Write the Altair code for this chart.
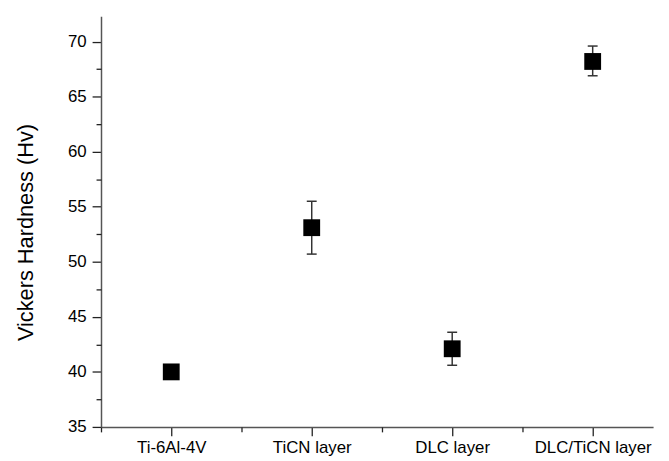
import altair as alt
import pandas as pd

categories = ["Ti-6Al-4V", "TiCN layer", "DLC layer", "DLC/TiCN layer"]
hardness = [40.0, 53.1, 42.1, 68.2]
err_low = [40.0, 50.7, 40.6, 66.9]
err_high = [40.0, 55.5, 43.6, 69.6]

y_major_ticks = [35, 40, 45, 50, 55, 60, 65, 70]
y_minor_ticks = [37.5, 42.5, 47.5, 52.5, 57.5, 62.5, 67.5]
x_major_ticks = [1, 2, 3, 4]
x_minor_ticks = [0.5, 1.5, 2.5, 3.5]

df = pd.DataFrame({
    "idx": list(range(1, len(categories) + 1)),
    "category": categories,
    "hardness": hardness,
    "low": err_low,
    "high": err_high,
})

label_expr = "[" + ",".join(f"'{c}'" for c in categories) + "][round(datum.value) - 1]"

FONT = "Liberation Sans"
xscale = alt.Scale(domain=[0.5, 4.43], nice=False, zero=False)
yscale = alt.Scale(domain=[35, 72.3], nice=False, zero=False)

x_major = alt.Axis(values=x_major_ticks, labelExpr=label_expr, tickSize=9, labelPadding=4,
                   labelFontSize=17, labelFont=FONT, labelColor="black", grid=False, title=None,
                   orient="bottom", labelFlush=False, labelOverlap=False,
                   domainColor="#555555", domainWidth=1.5, tickColor="#222222", tickWidth=1.3)
y_major = alt.Axis(values=y_major_ticks, tickSize=9, labelPadding=6, labelFontSize=17,
                   labelFont=FONT, labelColor="black", grid=False, orient="left", labelFlush=False,
                   title="Vickers Hardness (Hv)", titleFont=FONT, titleFontSize=22,
                   titleFontWeight="normal", titleColor="black", titleX=-76, titleY=218,
                   titleAngle=270, titleAlign="center", titleBaseline="middle",
                   domainColor="#555555", domainWidth=1.5, tickColor="#222222", tickWidth=1.3)
x_minor = alt.Axis(values=x_minor_ticks, labels=False, tickSize=5, domain=False, grid=False,
                   title=None, orient="bottom", tickColor="#222222", tickWidth=1.3)
y_minor = alt.Axis(values=y_minor_ticks, labels=False, tickSize=5, domain=False, grid=False,
                   title=None, orient="left", tickColor="#222222", tickWidth=1.3)

base = alt.Chart(df)

points = base.mark_square(size=289, color="black", opacity=1, strokeWidth=0).encode(
    x=alt.X("idx:Q", scale=xscale, axis=x_major),
    y=alt.Y("hardness:Q", scale=yscale, axis=y_major),
)

rules = base.mark_rule(color="#333333", strokeWidth=1.5).encode(
    x=alt.X("idx:Q", scale=xscale, axis=None),
    y=alt.Y("low:Q", scale=yscale, axis=None),
    y2="high:Q",
)

caps_top = base.mark_tick(orient="horizontal", size=10, thickness=1.5, color="#333333", opacity=1).encode(
    x=alt.X("idx:Q", scale=xscale, axis=None),
    y=alt.Y("high:Q", scale=yscale, axis=None),
)
caps_bot = base.mark_tick(orient="horizontal", size=10, thickness=1.5, color="#333333", opacity=1).encode(
    x=alt.X("idx:Q", scale=xscale, axis=None),
    y=alt.Y("low:Q", scale=yscale, axis=None),
)

minor = base.mark_point(opacity=0).encode(
    x=alt.X("idx:Q", scale=xscale, axis=x_minor),
    y=alt.Y("hardness:Q", scale=yscale, axis=y_minor),
)

chart = alt.layer(rules, caps_top, caps_bot, points, minor).resolve_axis(
    x="independent", y="independent"
).properties(
    width=558,
    height=415,
    autosize=alt.AutoSizeParams(type="none"),
    padding={"left": 94, "top": 6, "right": 8, "bottom": 30},
).configure_view(stroke=None)

chart.save("out.html", embed_options={"renderer": "svg", "actions": False})
